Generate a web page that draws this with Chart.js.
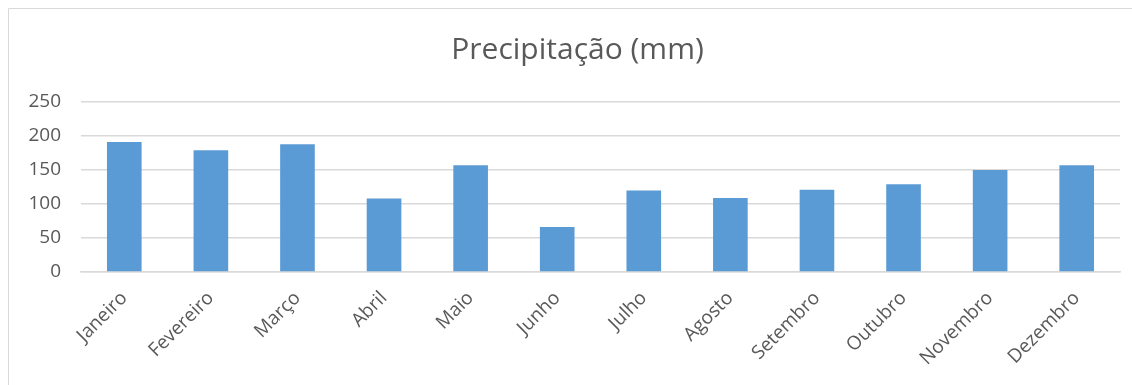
<!DOCTYPE html>
<html>
<head>
<meta charset="utf-8">
<script src="https://cdn.jsdelivr.net/npm/chart.js@4.4.1/dist/chart.umd.min.js"></script>
<style>
  html, body { margin: 0; padding: 0; background: #ffffff; }
  #wrap { width: 1132px; height: 385px; position: relative; }
</style>
</head>
<body>
<div id="wrap"><canvas id="chart" width="1132" height="385"></canvas></div>
<script>
// Monthly precipitation (mm)
const months = ['Janeiro', 'Fevereiro', 'Março', 'Abril', 'Maio', 'Junho',
                'Julho', 'Agosto', 'Setembro', 'Outubro', 'Novembro', 'Dezembro'];
const precipitation = [191, 179, 188, 108, 157, 66, 120, 109, 121, 129, 150, 157];
const yTicks = [0, 50, 100, 150, 200, 250];

const FONT = '"Open Sans", "DejaVu Sans", sans-serif';
const TEXT = '#595959';
const GRID = '#d9d9d9';

// Thin frame around the chart area, open on the right and bottom edges;
// the title is centred on the full frame, which runs past the canvas edge.
const framePlugin = {
  id: 'frame',
  afterLayout(chart) {
    const t = chart.titleBlock;
    if (t) { t.left += 13; t.right += 13; }
  },
  beforeDraw(chart) {
    const ctx = chart.ctx;
    ctx.save();
    ctx.fillStyle = '#ffffff';
    ctx.fillRect(0, 0, chart.width, chart.height);
    ctx.strokeStyle = GRID;
    ctx.lineWidth = 1;
    ctx.beginPath();
    ctx.moveTo(8.5, chart.height + 2);
    ctx.lineTo(8.5, 8.5);
    ctx.lineTo(chart.width + 2, 8.5);
    ctx.stroke();
    ctx.restore();
  }
};

new Chart(document.getElementById('chart'), {
  type: 'bar',
  data: {
    labels: months,
    datasets: [{
      label: 'Precipitação (mm)',
      data: precipitation,
      backgroundColor: '#5b9bd5',
      borderWidth: 0,
      categoryPercentage: 1.0,
      barPercentage: 0.4
    }]
  },
  options: {
    responsive: false,
    animation: false,
    devicePixelRatio: 1,
    layout: { padding: { left: 9, right: 12, top: 32, bottom: 0 } },
    plugins: {
      legend: { display: false },
      tooltip: { enabled: false },
      title: {
        display: true,
        text: 'Precipitação (mm)',
        color: TEXT,
        font: { family: FONT, size: 30, weight: '400' },
        padding: { top: 0, bottom: 34 }
      }
    },
    scales: {
      x: {
        grid: { display: false, drawTicks: false },
        border: { display: true, color: GRID, width: 1.5 },
        ticks: {
          color: TEXT,
          font: { family: FONT, size: 19 },
          maxRotation: 45,
          minRotation: 45,
          padding: 15,
          autoSkip: false
        },
        afterCalculateLabelRotation(scale) { scale.labelRotation = 45; },
        afterFit(scale) { scale.height = 113; }
      },
      y: {
        min: 0,
        max: 250,
        afterBuildTicks(scale) { scale.ticks = yTicks.map(v => ({ value: v })); },
        grid: { color: GRID, lineWidth: 1.5, drawTicks: false },
        border: { display: false },
        ticks: {
          color: TEXT,
          font: { family: FONT, size: 19 },
          padding: 20
        },
        afterFit(scale) { scale.width = 72; }
      }
    }
  },
  plugins: [framePlugin]
});
</script>
</body>
</html>
